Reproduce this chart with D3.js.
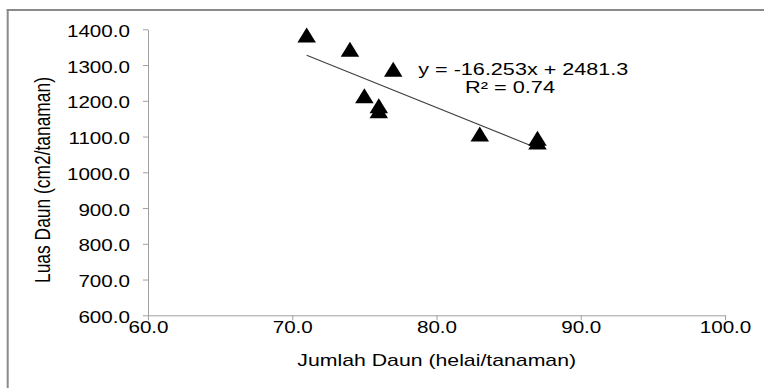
<!DOCTYPE html>
<html>
<head>
<meta charset="utf-8">
<script src="https://cdn.jsdelivr.net/npm/d3@7"></script>
<style>
  html, body { margin: 0; padding: 0; background: #fff; }
  svg { display: block; }
  text { font-family: "Liberation Sans", Arial, sans-serif; fill: #000; }
</style>
</head>
<body>
<svg id="chart" width="764" height="388"></svg>
<script>
// ---- data ----
const jumlahDaun = [71, 74, 77, 75, 76, 76, 83, 87, 87];
const luasDaun   = [1384, 1344, 1288, 1214, 1186, 1172, 1107, 1095, 1085];
const xTicks = [60, 70, 80, 90, 100];
const yTicks = [600, 700, 800, 900, 1000, 1100, 1200, 1300, 1400];
const trendSlope = -16.253;
const trendIntercept = 2481.3;
const trendRange = [71, 87];
const equationLabel = "y = -16.253x + 2481.3";
const r2Label = "R\u00B2 = 0.74";
const xTitle = "Jumlah Daun (helai/tanaman)";
const yTitle = "Luas Daun (cm2/tanaman)";

const svg = d3.select("#chart");
const x = d3.scaleLinear().domain([60, 100]).range([148, 725]);
const y = d3.scaleLinear().domain([600, 1400]).range([315.3, 29.3]);
const STRETCH = 1.25;
const axisColor = "#a0a0a0";

// outer frame (only top and left edges visible)
svg.append("line").attr("x1", 7.7).attr("x2", 7.7).attr("y1", 9).attr("y2", 388)
  .attr("stroke", "#8a8a8a").attr("stroke-width", 2);
svg.append("line").attr("x1", 6.7).attr("x2", 764).attr("y1", 10).attr("y2", 10)
  .attr("stroke", "#8a8a8a").attr("stroke-width", 2);

function stretchText(sel, factor) {
  sel.each(function () {
    const len = this.getComputedTextLength();
    d3.select(this).attr("textLength", len * factor).attr("lengthAdjust", "spacingAndGlyphs");
  });
}

// y axis
const gy = svg.append("g").attr("transform", `translate(${x(60)},0)`)
  .call(d3.axisLeft(y).tickValues(yTicks).tickFormat(d3.format(".1f")).tickSize(5).tickSizeOuter(0).tickPadding(13));
gy.selectAll("path, line").attr("stroke", axisColor);
gy.selectAll("text").attr("font-size", "16.5px").attr("dy", "7px")
  .style("font-family", '"Liberation Sans", Arial, sans-serif').attr("fill", "#000");
stretchText(gy.selectAll("text"), STRETCH);

// x axis
const gx = svg.append("g").attr("transform", `translate(0,${y(600)})`)
  .call(d3.axisBottom(x).tickValues(xTicks).tickFormat(d3.format(".1f")).tickSize(5).tickSizeOuter(0));
gx.selectAll("path, line").attr("stroke", axisColor);
gx.selectAll("text").attr("font-size", "16.5px").attr("y", 18).attr("dy", 0)
  .style("font-family", '"Liberation Sans", Arial, sans-serif').attr("fill", "#000");
stretchText(gx.selectAll("text"), STRETCH);

// axis titles
const xt = svg.append("text").attr("x", 436.7).attr("y", 366).attr("text-anchor", "middle")
  .attr("font-size", "17px").text(xTitle);
stretchText(xt, STRETCH);

svg.append("text")
  .attr("transform", "translate(50,180) scale(1.25,1) rotate(-90)")
  .attr("text-anchor", "middle").attr("font-size", "17px")
  .attr("textLength", 206).attr("lengthAdjust", "spacingAndGlyphs").text(yTitle);

// trendline
svg.append("line")
  .attr("x1", x(trendRange[0])).attr("y1", y(trendSlope * trendRange[0] + trendIntercept))
  .attr("x2", x(trendRange[1])).attr("y2", y(trendSlope * trendRange[1] + trendIntercept))
  .attr("stroke", "#404040").attr("stroke-width", 1.1);

// triangle markers
const tw = 18.5, th = 15;
svg.append("g").selectAll("path").data(jumlahDaun.map((d, i) => [d, luasDaun[i]]))
  .join("path")
  .attr("d", d => {
    const cx = x(d[0]), cy = y(d[1]);
    return `M${cx},${cy - th / 2}L${cx + tw / 2},${cy + th / 2}L${cx - tw / 2},${cy + th / 2}Z`;
  })
  .attr("fill", "#000");

// equation labels
svg.append("text").attr("x", 523.3).attr("y", 75).attr("text-anchor", "middle")
  .attr("font-size", "16.3px").attr("textLength", 210).attr("lengthAdjust", "spacingAndGlyphs")
  .text(equationLabel);
svg.append("text").attr("x", 510).attr("y", 93.3).attr("text-anchor", "middle")
  .attr("font-size", "16.3px").attr("textLength", 90).attr("lengthAdjust", "spacingAndGlyphs")
  .text(r2Label);
</script>
</body>
</html>
